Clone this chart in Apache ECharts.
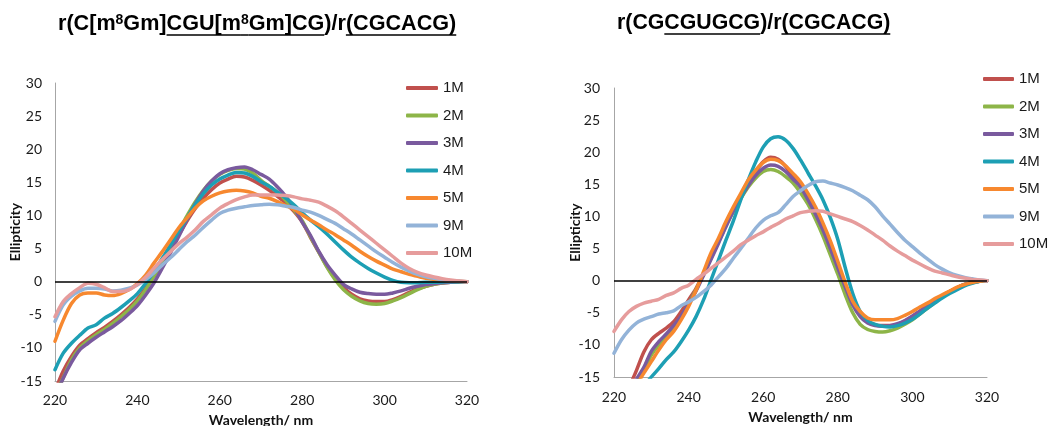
<!DOCTYPE html>
<html>
<head>
<meta charset="utf-8">
<script src="https://cdn.jsdelivr.net/npm/echarts@6/dist/echarts.min.js"></script>
<style>
  html, body { margin: 0; padding: 0; background: #fff; }
  #chart { width: 1051px; height: 426px; }
</style>
</head>
<body>
<div id="chart"></div>
<script>
// CD spectra: wavelength (nm) vs ellipticity, seven concentrations per duplex.
const wavelength = [220,222,224,226,228,230,232,234,236,238,240,242,244,246,248,250,252,254,256,258,
  260,262,264,266,268,270,272,274,276,278,280,282,284,286,288,290,292,294,296,298,
  300,302,304,306,308,310,312,314,316,318,320];
const wavelengthTicks = [220, 240, 260, 280, 300, 320];
const ellipticityTicks = [-15, -10, -5, 0, 5, 10, 15, 20, 25, 30];
const seriesNames = ['1M', '2M', '3M', '4M', '5M', '9M', '10M'];
const seriesColors = ['#C0504D', '#8DB548', '#7A5A9E', '#1D9FB4', '#F7882F', '#93B3D8', '#E69C9C'];

// r(C[m8Gm]CGU[m8Gm]CG)/r(CGCACG)
const modified1M = [-16.5,-13.5,-11.3,-9.6,-8.6,-7.7,-6.9,-6.0,-5.0,-3.9,
  -2.6,-1.0,0.8,2.8,4.9,7.0,9.1,11.0,12.6,13.9,
  14.9,15.5,15.9,15.8,15.3,14.6,13.8,12.9,11.9,10.6,
  9.0,6.7,4.5,2.3,0.5,-0.9,-1.9,-2.6,-2.9,-3.0,
  -3.0,-2.7,-2.2,-1.6,-1.1,-0.7,-0.4,-0.2,-0.1,0,0];
const modified2M = [-17,-14.5,-11.8,-10.0,-8.9,-8.0,-7.2,-6.3,-5.3,-4.2,
  -2.9,-1.2,0.8,3.0,5.3,7.6,9.9,12.0,13.8,15.2,
  16.2,16.8,17.1,17.0,16.4,15.3,14.4,13.5,12.3,10.8,
  9.2,6.8,4.5,2.2,0.3,-1.2,-2.2,-2.9,-3.3,-3.4,
  -3.3,-2.9,-2.4,-1.8,-1.2,-0.7,-0.4,-0.2,-0.1,-0.05,0];
const modified3M = [-17.5,-14.6,-12.2,-10.3,-9.3,-8.4,-7.6,-6.8,-5.9,-4.8,
  -3.6,-2.0,-0.2,2.0,4.3,6.8,9.3,11.7,13.7,15.2,
  16.3,16.9,17.2,17.3,16.9,16.2,15.5,14.3,12.9,11.2,
  9.0,7.0,4.6,2.6,1.0,-0.4,-1.1,-1.6,-1.8,-1.9,
  -1.9,-1.7,-1.4,-1.0,-0.7,-0.45,-0.3,-0.15,-0.1,0,0];
const modified4M = [-13.3,-10.8,-9.3,-8.1,-7.0,-6.5,-5.5,-4.8,-3.9,-2.9,
  -1.8,-0.25,1.5,3.5,5.5,7.6,9.6,11.6,13.3,14.6,
  15.5,16.1,16.5,16.4,15.9,15.1,14.4,13.5,12.6,11.6,
  10.4,9.3,8.3,7.2,6.0,4.8,3.7,2.8,2.0,1.3,
  0.7,0.2,-0.1,-0.15,-0.15,-0.1,-0.1,-0.05,0,0,0];
const modified5M = [-9.0,-5.8,-3.3,-2.0,-1.7,-1.7,-2.0,-2.1,-1.8,-1.2,
  -0.3,1.0,2.8,4.5,6.3,8.1,9.6,11.1,12.2,12.9,
  13.4,13.7,13.8,13.7,13.4,12.9,12.6,12.1,11.5,10.9,
  10.1,9.3,8.6,7.8,7.1,6.3,5.5,4.6,3.8,3.1,
  2.5,1.9,1.5,1.1,0.8,0.5,0.35,0.2,0.1,0.05,0];
const modified9M = [-6.0,-3.5,-2.2,-1.4,-1.0,-1.0,-1.1,-1.4,-1.3,-1.0,
  -0.5,0.3,1.3,2.5,3.6,4.8,6.0,7.0,8.2,9.3,
  10.3,10.8,11.1,11.3,11.5,11.6,11.7,11.6,11.4,11.2,
  10.8,10.5,10.0,9.4,8.8,8.0,7.2,6.3,5.4,4.5,
  3.7,2.9,2.2,1.6,1.1,0.75,0.5,0.3,0.15,0.05,0];
const modified10M = [-5.3,-3.0,-1.8,-0.9,-0.25,-0.4,-0.9,-1.5,-1.5,-1.2,
  -0.4,0.65,2.0,3.3,4.5,5.7,6.7,7.8,9.1,10.1,
  11.1,11.8,12.4,12.8,13.1,13.1,13.1,13.1,13.0,12.8,
  12.5,12.3,12.0,11.4,10.7,9.8,8.8,7.8,6.8,5.8,
  4.8,3.8,2.8,2.0,1.4,1.0,0.7,0.45,0.25,0.1,0];

// r(CGCGUGCG)/r(CGCACG)
const unmodified1M = [-22,-19.5,-16.7,-14.0,-11.1,-9.2,-8.2,-7.4,-6.4,-4.8,
  -3.0,-1.2,1.1,3.7,6.1,8.7,11.0,13.1,15.2,17.0,
  18.5,19.2,18.9,17.8,16.2,14.8,12.8,10.6,8.2,5.4,
  2.5,-0.6,-3.4,-5.3,-6.4,-6.9,-7.0,-7.0,-6.8,-6.3,
  -5.6,-4.8,-4.0,-3.2,-2.4,-1.7,-1.1,-0.6,-0.3,-0.1,0];
const unmodified2M = [-22,-20,-18,-15.8,-14.0,-11.6,-10.0,-8.7,-7.3,-5.7,
  -3.6,-1.4,1.0,3.5,6.0,8.5,10.8,12.8,14.6,16.0,
  17.0,17.3,17.0,16.2,15.2,13.7,11.9,9.6,7.0,4.0,
  1.0,-2.2,-5.0,-6.8,-7.6,-7.9,-8.0,-7.8,-7.4,-6.8,
  -6.1,-5.2,-4.3,-3.4,-2.5,-1.7,-1.1,-0.6,-0.3,-0.1,0];
const unmodified3M = [-21.5,-19.5,-17.5,-15.4,-13.5,-11.0,-9.5,-8.3,-7.0,-5.5,
  -3.6,-1.6,0.8,3.3,5.8,8.4,10.8,12.9,14.8,16.4,
  17.5,18.0,17.8,17.0,15.8,14.6,12.6,10.4,7.9,5.0,
  2.0,-1.0,-3.8,-5.6,-6.6,-7.0,-7.1,-7.0,-6.7,-6.2,
  -5.5,-4.7,-3.9,-3.1,-2.4,-1.7,-1.1,-0.6,-0.3,-0.1,0];
const unmodified4M = [-24,-22,-20,-18.5,-16.5,-15.0,-13.7,-12.3,-11.1,-9.5,
  -7.7,-5.6,-3.0,0.1,3.2,6.3,9.3,12.6,15.7,18.5,
  20.8,22.1,22.4,21.9,20.6,18.8,16.8,14.8,12.6,9.8,
  6.4,2.0,-2.0,-4.8,-6.2,-6.8,-7.1,-7.2,-7.0,-6.6,
  -6.0,-5.2,-4.3,-3.5,-2.7,-2.0,-1.4,-0.8,-0.4,-0.1,0];
const unmodified5M = [-22.5,-20.5,-18.5,-16.3,-14.4,-12.6,-10.8,-9.2,-7.9,-6.1,
  -4.0,-1.5,1.4,4.3,6.6,9.2,11.5,13.6,15.7,17.2,
  18.4,18.9,18.7,17.9,16.7,15.4,13.6,11.5,9.0,6.2,
  3.0,-0.3,-3.2,-4.8,-5.8,-6.1,-6.1,-6.1,-5.9,-5.4,
  -4.8,-4.1,-3.5,-2.8,-2.2,-1.6,-1.0,-0.6,-0.3,-0.1,0];
const unmodified9M = [-11.3,-9.2,-7.7,-6.6,-6.0,-5.6,-5.2,-5.0,-4.7,-3.9,
  -3.3,-2.6,-1.7,-0.7,0.6,1.9,3.5,5.0,6.6,8.2,
  9.4,10.1,10.6,11.8,13.1,14.0,14.8,15.4,15.5,15.2,
  14.9,14.5,14.0,13.3,12.6,11.5,10.1,8.8,7.5,6.3,
  5.3,4.3,3.4,2.5,1.8,1.2,0.8,0.5,0.3,0.1,0];
const unmodified10M = [-7.9,-6.1,-4.8,-4.0,-3.5,-3.2,-2.9,-2.3,-1.9,-1.2,
  -0.7,0.2,1.0,1.9,2.8,3.7,4.6,5.6,6.3,7.0,
  7.6,8.3,8.9,9.6,10.1,10.6,10.8,10.9,10.8,10.4,
  10.0,9.6,9.2,8.6,7.9,7.1,6.3,5.4,4.6,3.9,
  3.2,2.6,2.0,1.5,1.2,0.9,0.6,0.4,0.2,0.1,0];

const modifiedSeries = [modified1M, modified2M, modified3M, modified4M, modified5M, modified9M, modified10M];
const unmodifiedSeries = [unmodified1M, unmodified2M, unmodified3M, unmodified4M, unmodified5M, unmodified9M, unmodified10M];

// Title pieces: sup = superscript, u = underlined
const titleModified = [
  { text: 'r(C[m' }, { text: '8', sup: true }, { text: 'Gm]' },
  { text: 'CGU[m', u: true }, { text: '8', sup: true, u: true }, { text: 'Gm]CG', u: true },
  { text: ')/r' }, { text: '(CGCACG)', u: true }
];
const titleUnmodified = [
  { text: 'r(CG' }, { text: 'CGUGCG', u: true }, { text: ')/r' }, { text: '(CGCACG)', u: true }
];

const TITLE_FONT = '"Liberation Sans", Arial, sans-serif';
const AXIS_FONT = 'Lato, "Open Sans", sans-serif';

function buildTitle(parts, x0, yMid, size) {
  const ctx = document.createElement('canvas').getContext('2d');
  const els = [];
  let x = x0;
  parts.forEach(function (p) {
    const fs = p.sup ? Math.round(size * 0.65) : size;
    const font = 'bold ' + fs + 'px ' + TITLE_FONT;
    ctx.font = font;
    const w = ctx.measureText(p.text).width;
    els.push({
      type: 'text', x: x, y: p.sup ? yMid - 4 : yMid, silent: true,
      style: { text: p.text, font: font, fill: '#000', verticalAlign: 'middle', align: 'left' }
    });
    if (p.u) {
      els.push({
        type: 'line', silent: true,
        shape: { x1: x, y1: yMid + 11, x2: x + w, y2: yMid + 11 },
        style: { stroke: '#000', lineWidth: 1.5 }
      });
    }
    x += w;
  });
  return els;
}

function makeXAxis(gridIndex, nameGap, labelMargin) {
  return {
    type: 'value', gridIndex: gridIndex,
    min: wavelengthTicks[0], max: wavelengthTicks[wavelengthTicks.length - 1],
    interval: wavelengthTicks[1] - wavelengthTicks[0],
    name: 'Wavelength/ nm', nameLocation: 'middle', nameGap: nameGap, nameMoveOverlap: false,
    nameTextStyle: { fontFamily: AXIS_FONT, fontWeight: 'bold', fontSize: 14, color: '#111' },
    axisLine: { show: true, onZero: false, lineStyle: { color: '#A6A6A6', width: 1 } },
    axisTick: { show: false },
    splitLine: { show: false },
    axisLabel: { fontFamily: AXIS_FONT, fontSize: 14, color: '#1a1a1a', margin: labelMargin }
  };
}

function makeYAxis(gridIndex, labelMargin, nameGap) {
  return {
    type: 'value', gridIndex: gridIndex,
    min: ellipticityTicks[0], max: ellipticityTicks[ellipticityTicks.length - 1],
    interval: ellipticityTicks[1] - ellipticityTicks[0],
    name: 'Ellipticity', nameLocation: 'middle', nameGap: nameGap, nameMoveOverlap: false,
    nameTextStyle: { fontFamily: AXIS_FONT, fontWeight: 'bold', fontSize: 14, color: '#111' },
    axisLine: { show: true, lineStyle: { color: '#A6A6A6', width: 1 } },
    axisTick: { show: false },
    splitLine: { show: false },
    axisLabel: { fontFamily: AXIS_FONT, fontSize: 14, color: '#1a1a1a', margin: labelMargin }
  };
}

function makeSeries(valuesList, axisIndex) {
  return valuesList.map(function (values, i) {
    const s = {
      name: seriesNames[i], type: 'line',
      xAxisIndex: axisIndex, yAxisIndex: axisIndex,
      data: wavelength.map(function (w, k) { return [w, values[k]]; }),
      showSymbol: false, smooth: 0.3, clip: true,
      lineStyle: { width: 3.5, color: seriesColors[i], cap: 'round', join: 'round' },
      itemStyle: { color: seriesColors[i] },
      emphasis: { disabled: true }
    };
    if (i === 0) {
      s.markLine = {
        silent: true, symbol: 'none', label: { show: false },
        lineStyle: { color: '#000', width: 1.5, type: 'solid' },
        emphasis: { disabled: true },
        data: [{ yAxis: 0 }]
      };
    }
    return s;
  });
}

function makeLegend(left, top, iconWidth) {
  return {
    orient: 'vertical', left: left, top: top, padding: 0,
    data: seriesNames, icon: 'roundRect',
    itemWidth: iconWidth, itemHeight: 4, itemGap: 11.5,
    selectedMode: false,
    textStyle: { fontFamily: TITLE_FONT, fontSize: 15, color: '#1a1a1a', lineHeight: 16 }
  };
}

const chart = echarts.init(document.getElementById('chart'), null, { renderer: 'canvas' });
chart.setOption({
  animation: false,
  backgroundColor: '#fff',
  grid: [
    { left: 55, top: 83, width: 412, height: 298, outerBoundsMode: 'none', containLabel: false },
    { left: 614, top: 88, width: 373, height: 289, outerBoundsMode: 'none', containLabel: false }
  ],
  xAxis: [makeXAxis(0, 32, 12), makeXAxis(1, 33, 13)],
  yAxis: [makeYAxis(0, 13, 33), makeYAxis(1, 14, 32)],
  legend: [makeLegend(406, 80, 32), makeLegend(983, 71, 31)],
  graphic: buildTitle(titleModified, 58, 24, 21.6).concat(buildTitle(titleUnmodified, 617, 23, 21.3)),
  series: makeSeries(modifiedSeries, 0).concat(makeSeries(unmodifiedSeries, 1))
});
</script>
</body>
</html>
